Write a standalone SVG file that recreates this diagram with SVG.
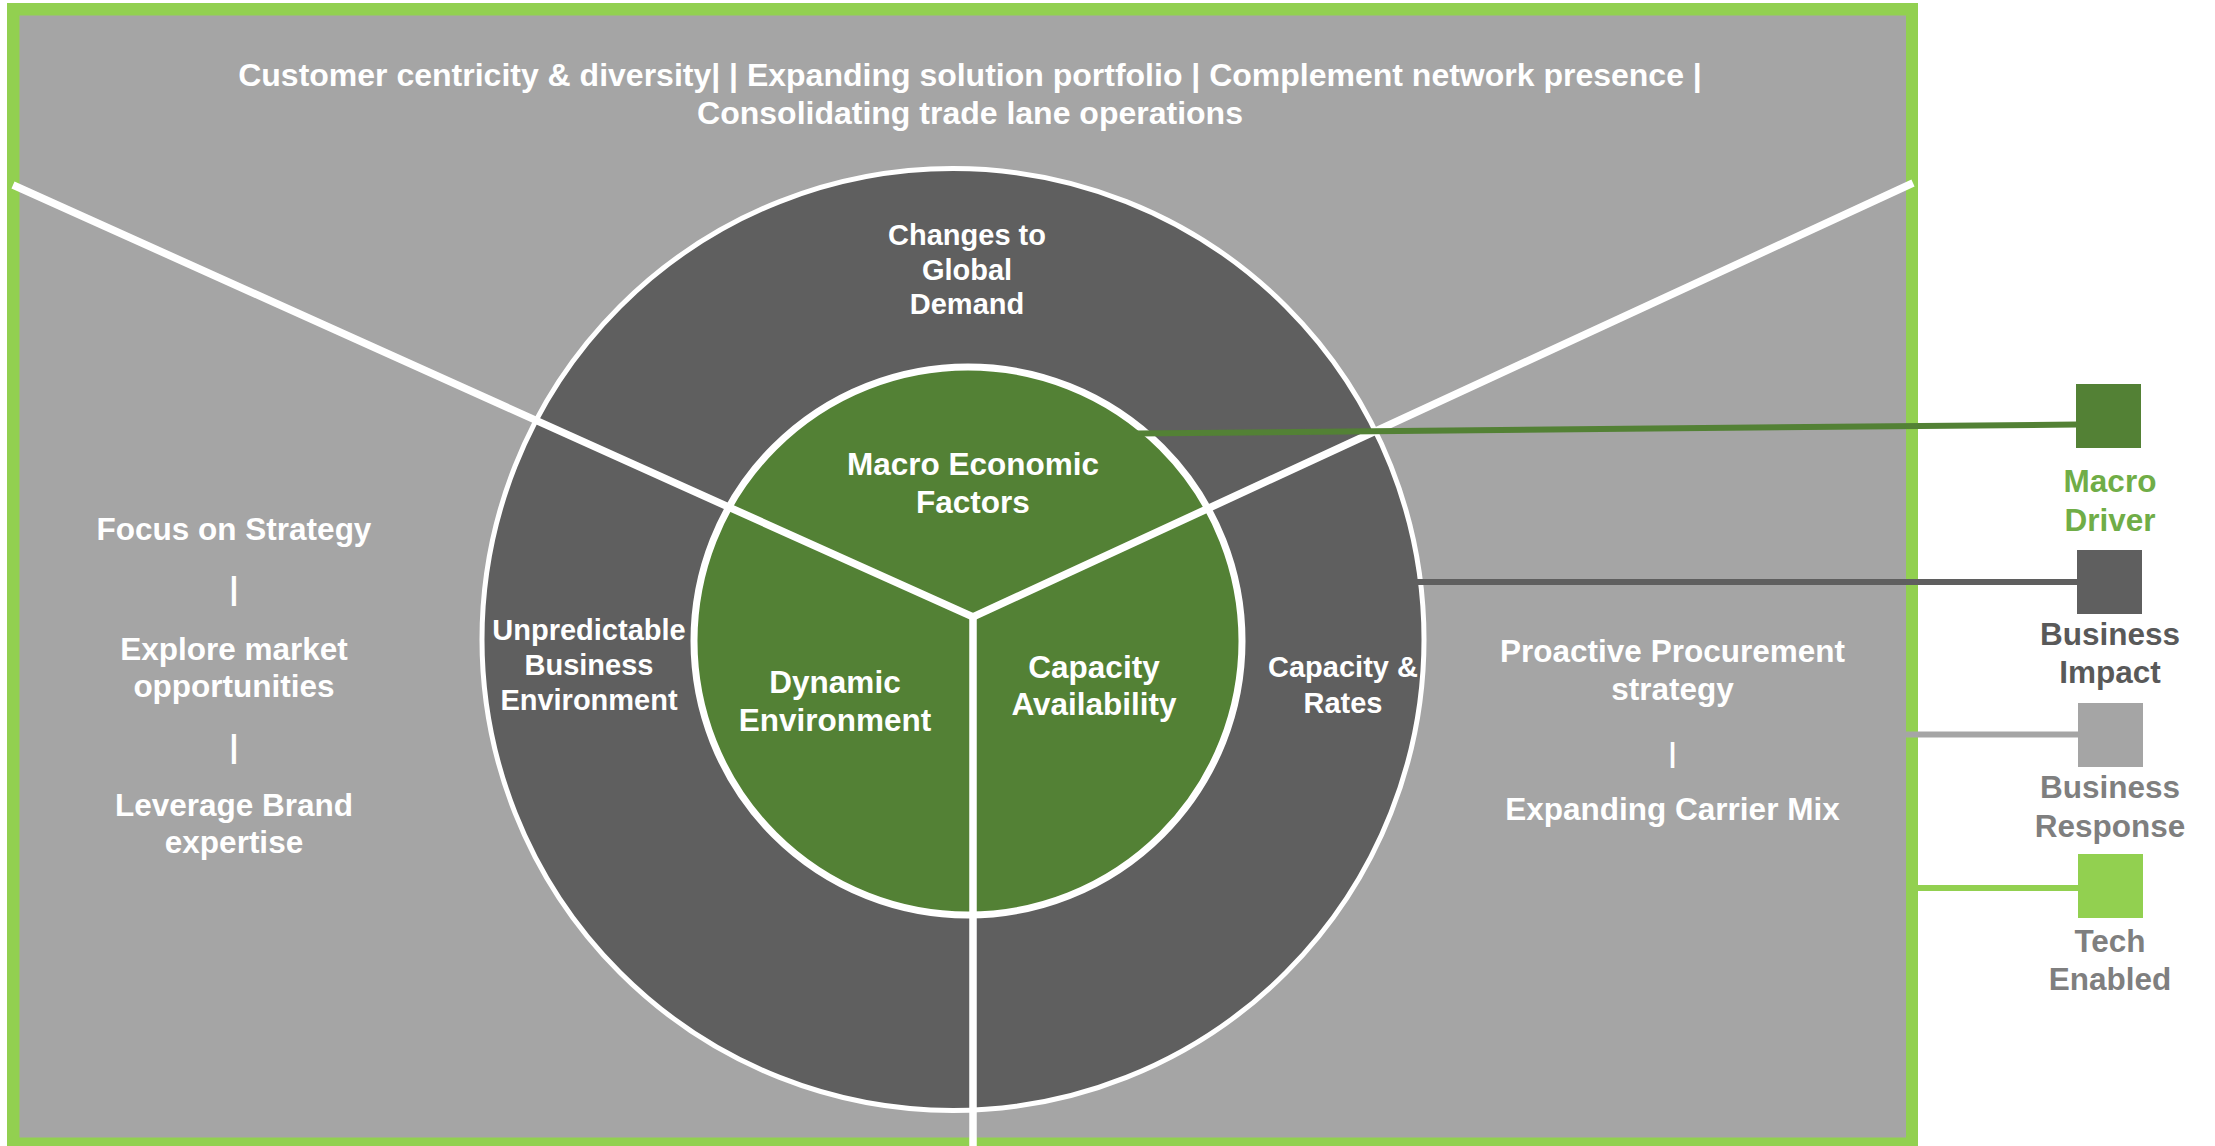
<svg xmlns="http://www.w3.org/2000/svg" width="2215" height="1146" viewBox="0 0 2215 1146">
  <style>
    text { font-family: "Liberation Sans", Arial, sans-serif; font-weight: bold; text-anchor: middle; }
    .w { fill: #FFFFFF; }
    .big { font-size: 31.5px; }
    .head { font-size: 32px; }
    .mid { font-size: 29px; }
    .pipe { font-size: 31.5px; }
    .divider { fill: none; stroke: #FFFFFF; stroke-width: 7.5; stroke-linejoin: miter; }
    .conn { fill: none; stroke-width: 6; }
  </style>

  <!-- page background and framed panel -->
  <rect x="0" y="0" width="2215" height="1146" fill="#FFFFFF"/>
  <rect x="7" y="3" width="1911" height="1143" fill="#92D050"/>
  <rect x="19.5" y="15.5" width="1886.5" height="1122" fill="#A5A5A5"/>

  <!-- headline across the top of the panel -->
  <g id="headline">
    <text class="w head" x="970" y="86">Customer centricity &amp; diversity| | Expanding solution portfolio | Complement network presence |</text>
    <text class="w head" x="970" y="124">Consolidating trade lane operations</text>
  </g>

  <!-- outer ring: business impact -->
  <g id="ring-outer">
    <circle cx="953" cy="639.5" r="471" fill="#5F5F5F" stroke="#FFFFFF" stroke-width="5"/>
  </g>

  <!-- inner disc: macro drivers -->
  <g id="disc-inner">
    <circle cx="968" cy="641" r="274" fill="#538135" stroke="#FFFFFF" stroke-width="7"/>
  </g>

  <!-- Y-shaped dividers splitting the panel into three sectors -->
  <g id="dividers">
    <polyline class="divider" points="13,185 973,617 1913,183"/>
    <line class="divider" x1="973" y1="617" x2="973" y2="1146"/>
  </g>

  <!-- ring labels -->
  <g id="changes-global-demand">
    <text class="w mid" x="967" y="245">Changes to</text>
    <text class="w mid" x="967" y="279.5">Global</text>
    <text class="w mid" x="967" y="314">Demand</text>
  </g>
  <g id="unpredictable-business">
    <text class="w mid" x="589" y="640">Unpredictable</text>
    <text class="w mid" x="589" y="675">Business</text>
    <text class="w mid" x="589" y="710">Environment</text>
  </g>
  <g id="capacity-rates">
    <text class="w mid" x="1343" y="677">Capacity &amp;</text>
    <text class="w mid" x="1343" y="713">Rates</text>
  </g>

  <!-- disc labels -->
  <g id="macro-economic-factors">
    <text class="w big" x="973" y="475">Macro Economic</text>
    <text class="w big" x="973" y="513">Factors</text>
  </g>
  <g id="dynamic-environment">
    <text class="w big" x="835" y="693">Dynamic</text>
    <text class="w big" x="835" y="731">Environment</text>
  </g>
  <g id="capacity-availability">
    <text class="w big" x="1094" y="678">Capacity</text>
    <text class="w big" x="1094" y="715">Availability</text>
  </g>

  <!-- business responses, left sector -->
  <g id="response-left">
    <text class="w big" x="234" y="540">Focus on Strategy</text>
    <text class="w pipe" x="234" y="599">|</text>
    <text class="w big" x="234" y="660">Explore market</text>
    <text class="w big" x="234" y="697">opportunities</text>
    <text class="w pipe" x="234" y="757">|</text>
    <text class="w big" x="234" y="816">Leverage Brand</text>
    <text class="w big" x="234" y="853">expertise</text>
  </g>

  <!-- business responses, right sector -->
  <g id="response-right">
    <text class="w big" x="1672.5" y="662">Proactive Procurement</text>
    <text class="w big" x="1672.5" y="699.5">strategy</text>
    <text class="w" x="1672.5" y="762" style="font-size:27px">|</text>
    <text class="w big" x="1672.5" y="819.5">Expanding Carrier Mix</text>
  </g>

  <!-- leader lines to the key -->
  <g id="connectors">
    <line class="conn" x1="1137" y1="433.5" x2="2077" y2="424.5" stroke="#538135"/>
    <line class="conn" x1="1417" y1="582" x2="2078" y2="582" stroke="#5F5F5F"/>
    <line class="conn" x1="1890" y1="734.5" x2="2079" y2="734.5" stroke="#A5A5A5"/>
    <line class="conn" x1="1917" y1="888" x2="2079" y2="888" stroke="#92D050"/>
  </g>

  <!-- key -->
  <g id="key-macro-driver">
    <rect x="2076" y="384" width="65" height="64" fill="#538135"/>
    <text class="big" x="2110" y="492" fill="#70AD47">Macro</text>
    <text class="big" x="2110" y="531" fill="#70AD47">Driver</text>
  </g>
  <g id="key-business-impact">
    <rect x="2077" y="550" width="65" height="64" fill="#5F5F5F"/>
    <text class="big" x="2110" y="645" fill="#595959">Business</text>
    <text class="big" x="2110" y="683" fill="#595959">Impact</text>
  </g>
  <g id="key-business-response">
    <rect x="2078" y="703" width="65" height="64" fill="#A5A5A5"/>
    <text class="big" x="2110" y="798" fill="#7F7F7F">Business</text>
    <text class="big" x="2110" y="837" fill="#7F7F7F">Response</text>
  </g>
  <g id="key-tech-enabled">
    <rect x="2078" y="854" width="65" height="64" fill="#92D050"/>
    <text class="big" x="2110" y="952" fill="#7F7F7F">Tech</text>
    <text class="big" x="2110" y="990" fill="#7F7F7F">Enabled</text>
  </g>
</svg>
